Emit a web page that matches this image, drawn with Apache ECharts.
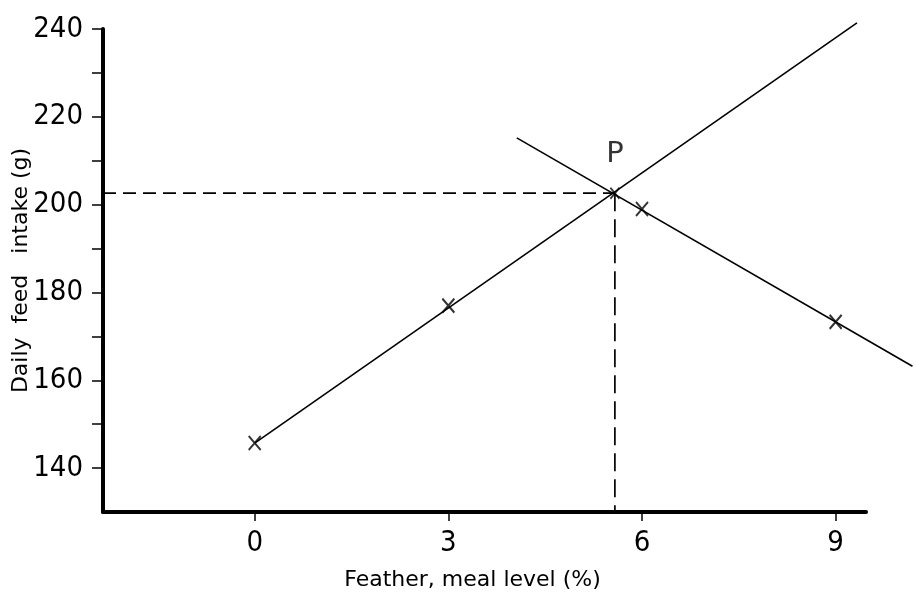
<!DOCTYPE html>
<html>
<head>
<meta charset="utf-8">
<script src="https://cdn.jsdelivr.net/npm/echarts@6/dist/echarts.min.js"></script>
<style>
html,body{margin:0;padding:0;background:#fff;}
#chart{width:916px;height:592px;}
</style>
</head>
<body>
<div id="chart"></div>
<script>
// ---- data ----
const xTicks = [0, 3, 6, 9];
const yTicks = [140, 150, 160, 170, 180, 190, 200, 210, 220, 230, 240];
const yLabels = [140, 160, 180, 200, 220, 240];
const observedX = [0, 3, 6, 9];
const observedY = [145.7, 177.0, 199.0, 173.3];
const risingLineX = [0, 9.33];
const risingLineY = [145.7, 241.4];
const fallingLineX = [4.06, 10.19];
const fallingLineY = [215.2, 163.2];
const pointP = [5.58, 202.6];
const xRange = [-2.35, 9.47];   // drawn axis extent
const yRange = [130, 240];
const xDrawMax = 10.2;          // lines run past the drawn axis
const yDrawMax = 242;
const xTitle = 'Feather, meal level (%)';
const yTitle = 'Daily  feed   intake (g)';

const zip = (xs, ys) => xs.map((x, i) => [x, ys[i]]);
const tickFont = "'Liberation Sans Narrow','DejaVu Sans Condensed','Liberation Sans',sans-serif";
const titleFont = "'DejaVu Sans','Liberation Sans',sans-serif";
const cross = 'path://M0,0L10,12M10,0L0,12';

// layout of the visible axes
const G = {left: 103, top: 29, width: 763, height: 483};
const pxX = G.width / (xRange[1] - xRange[0]);
const pxY = G.height / (yRange[1] - yRange[0]);
// same scale, wider box so lines can run beyond the axes
const G2 = {
  left: G.left,
  top: G.top - (yDrawMax - yRange[1]) * pxY,
  width: (xDrawMax - xRange[0]) * pxX,
  height: G.height + (yDrawMax - yRange[1]) * pxY
};

const chart = echarts.init(document.getElementById('chart'), null, {renderer: 'canvas'});
chart.setOption({
  animation: false,
  backgroundColor: '#fff',
  grid: [
    Object.assign({containLabel: false, outerBoundsMode: 'none'}, G),
    Object.assign({containLabel: false, outerBoundsMode: 'none'}, G2)
  ],
  xAxis: [{
    gridIndex: 0, type: 'value', min: xRange[0], max: xRange[1],
    splitLine: {show: false},
    axisLine: {show: true, onZero: false, lineStyle: {color: '#000', width: 4}},
    axisTick: {show: true, customValues: xTicks, length: 9, lineStyle: {color: '#000', width: 1.5}},
    axisLabel: {customValues: xTicks, margin: 17, color: '#000', fontSize: 29, fontFamily: tickFont},
    name: xTitle, nameLocation: 'middle', nameGap: 57, nameMoveOverlap: false,
    nameTextStyle: {color: '#000', fontSize: 22, fontFamily: titleFont, padding: [0, 24, 0, 0]}
  }, {
    gridIndex: 1, type: 'value', min: xRange[0], max: xDrawMax, show: false
  }],
  yAxis: [{
    gridIndex: 0, type: 'value', min: yRange[0], max: yRange[1],
    splitLine: {show: false},
    axisLine: {show: true, onZero: false, lineStyle: {color: '#000', width: 4}},
    axisTick: {show: true, customValues: yTicks, length: 11, lineStyle: {color: '#000', width: 1.5}},
    axisLabel: {customValues: yLabels, margin: 20, color: '#000', fontSize: 29, fontFamily: tickFont,
      padding: [0, 0, 8, 0]},
    name: yTitle, nameLocation: 'middle', nameGap: 71, nameRotate: 90, nameMoveOverlap: false,
    nameTextStyle: {color: '#000', fontSize: 22, fontFamily: titleFont}
  }, {
    gridIndex: 1, type: 'value', min: yRange[0], max: yDrawMax, show: false
  }],
  series: [
    {type: 'line', xAxisIndex: 1, yAxisIndex: 1, data: zip(risingLineX, risingLineY), symbol: 'none',
      lineStyle: {color: '#000', width: 1.6}},
    {type: 'line', xAxisIndex: 1, yAxisIndex: 1, data: zip(fallingLineX, fallingLineY), symbol: 'none',
      lineStyle: {color: '#000', width: 1.6}},
    {type: 'line', xAxisIndex: 1, yAxisIndex: 1, data: [[xRange[0], pointP[1]], pointP], symbol: 'none',
      lineStyle: {color: '#000', width: 1.7, type: [13, 7]}},
    {type: 'line', xAxisIndex: 1, yAxisIndex: 1, data: [pointP, [pointP[0], yRange[0]]], symbol: 'none',
      lineStyle: {color: '#000', width: 1.7, type: [18, 8]}},
    {type: 'scatter', xAxisIndex: 1, yAxisIndex: 1, data: zip(observedX, observedY), symbol: cross,
      symbolSize: [12, 14],
      itemStyle: {color: 'transparent', borderColor: '#000', borderWidth: 2}},
    {type: 'scatter', xAxisIndex: 1, yAxisIndex: 1, data: [pointP], symbol: cross, symbolSize: [9, 11],
      itemStyle: {color: 'transparent', borderColor: '#000', borderWidth: 1.8},
      label: {show: true, formatter: 'P', position: 'top', distance: 18,
        color: '#000', fontSize: 29, fontFamily: titleFont}}
  ]
});
</script>
</body>
</html>
